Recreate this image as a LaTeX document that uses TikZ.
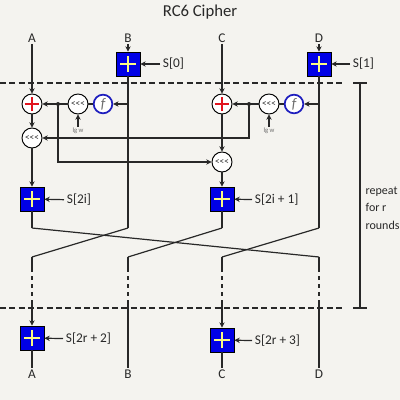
\documentclass[tikz,border=0pt]{standalone}
\usepackage{fontspec}
\setmainfont{Carlito}
\usetikzlibrary{arrows.meta, positioning, calc}
\definecolor{RCBack}{RGB}{244, 243, 239}
\definecolor{RCBlue}{RGB}{0, 0, 230}
\definecolor{RCYellow}{RGB}{250, 250, 130}
\definecolor{RCRed}{RGB}{225, 20, 30}
\definecolor{RCRing}{RGB}{30, 30, 190}
\definecolor{RCLine}{RGB}{40, 40, 40}
\definecolor{RCGrey}{RGB}{110, 110, 110}

\tikzset{
  wire/.style={RCLine, line width=0.9pt},
  arr/.style={wire, -{Stealth[length=4pt,width=4pt]}},
  broken/.style={wire, dash pattern=on 3pt off 3pt},
  sep/.style={RCLine, line width=0.9pt, dash pattern=on 4.5pt off 2.5pt},
  lbl/.style={font=\fontsize{10}{12}\selectfont, text=RCLine, inner sep=1pt},
  keylbl/.style={lbl, anchor=west, inner sep=2pt},
  keybox/.style={draw=black, line width=0.6pt, fill=RCBlue, minimum size=18pt, inner sep=0pt,
    path picture={
      \draw[RCYellow, line width=1pt] (path picture bounding box.center) ++(-6pt,0) -- ++(12pt,0);
      \draw[RCYellow, line width=1pt] (path picture bounding box.center) ++(0,-6pt) -- ++(0,12pt);
    }},
  addcirc/.style={circle, draw=black, line width=0.7pt, fill=white, minimum size=15pt, inner sep=0pt,
    path picture={
      \draw[RCRed, line width=1.3pt] (path picture bounding box.center) ++(-5.5pt,0) -- ++(11pt,0);
      \draw[RCRed, line width=1.3pt] (path picture bounding box.center) ++(0,-5.5pt) -- ++(0,11pt);
    }},
  rotcirc/.style={circle, draw=black, line width=0.7pt, fill=white, minimum size=15pt, inner sep=0pt,
    font=\fontsize{7}{7}\selectfont, text=RCLine},
  fcirc/.style={circle, draw=RCRing, line width=1.3pt, fill=white, minimum size=14pt, inner sep=0pt,
    font=\fontsize{11}{11}\selectfont\itshape, text=RCGrey},
}

\begin{document}
\begin{tikzpicture}[x=0.75pt,y=-0.75pt]
  \useasboundingbox (0,0) rectangle (400,400);
  \fill[RCBack] (0,0) rectangle (400,400);

  \node[lbl, font=\fontsize{12.5}{14}\selectfont] (title) at (200,12) {RC6 Cipher};

  % inputs and first keys
  \node[lbl] (inA) at (32,38) {A};
  \node[lbl] (inB) at (128,38) {B};
  \node[lbl] (inC) at (222,38) {C};
  \node[lbl] (inD) at (319,38) {D};
  \node[keybox] (keyB) at (128,64) {};
  \node[keybox] (keyD) at (319,64) {};
  \node[keylbl] (sB) at (160,64) {S[0]};
  \node[keylbl] (sD) at (350,64) {S[1]};

  % round separators
  \draw[sep] (0,83) -- (342,83);
  \draw[sep] (0,308) -- (342,308);
  \draw[wire] (360,83) -- (360,308);
  \draw[wire] (353,83) -- (367,83);
  \draw[wire] (353,308) -- (367,308);
  \node[lbl, anchor=west, align=left, font=\fontsize{9}{13}\selectfont] (rep) at (364,208) {repeat\\for r\\rounds};

  % round function
  \node[addcirc] (addA) at (32,104) {};
  \coordinate (dotA) at (58,104);
  \node[rotcirc] (rotA) at (78,104) {<{}<{}<};
  \node[fcirc] (fA) at (103,104) {f};
  \node[lbl, font=\fontsize{5}{5}\selectfont, text=RCGrey] (lgA) at (78,131) {lg w};
  \node[addcirc] (addC) at (222,104) {};
  \coordinate (dotC) at (249,104);
  \node[rotcirc] (rotC) at (269,104) {<{}<{}<};
  \node[fcirc] (fC) at (294,104) {f};
  \node[lbl, font=\fontsize{5}{5}\selectfont, text=RCGrey] (lgC) at (269,131) {lg w};
  \node[rotcirc] (shA) at (32,138) {<{}<{}<};
  \node[rotcirc] (shC) at (222,162) {<{}<{}<};
  \node[keybox] (keyA) at (32,199) {};
  \node[keybox] (keyC) at (222,199) {};
  \node[keylbl] (sA) at (64,200) {S[2i]};
  \node[keylbl] (sC) at (252,200) {S[2i + 1]};

  % output keys and labels
  \node[keybox] (finA) at (32,338) {};
  \node[keybox] (finC) at (222,340) {};
  \node[keylbl] (sfA) at (63,339) {S[2r + 2]};
  \node[keylbl] (sfC) at (252,341) {S[2r + 3]};
  \node[lbl] (outA) at (32,374) {A};
  \node[lbl] (outB) at (128,374) {B};
  \node[lbl] (outC) at (222,374) {C};
  \node[lbl] (outD) at (319,374) {D};

  \foreach \c/\x in {A/32,B/128,C/222,D/319}{
    \coordinate (top\c) at (\x,228);
    \coordinate (bot\c) at (\x,257);
    \coordinate (ds\c) at (\x,268);
    \coordinate (de\c) at (\x,302);
  }

  % top part
  \draw[arr] (inA) -- (addA);
  \draw[arr] (inB) -- (keyB);
  \draw[arr] (inC) -- (addC);
  \draw[arr] (inD) -- (keyD);
  \draw[arr] (sB) -- (keyB);
  \draw[arr] (sD) -- (keyD);
  \draw[wire] (keyB) -- (topB);
  \draw[wire] (keyD) -- (topD);
  \draw[arr] (keyB |- fA) -- (fA);
  \draw[arr] (keyD |- fC) -- (fC);
  \draw[wire] (fA) -- (rotA);
  \draw[wire] (fC) -- (rotC);
  \draw[arr] (rotA) -- (addA);
  \draw[arr] (rotC) -- (addC);
  \draw[arr] (lgA) -- (rotA);
  \draw[arr] (lgC) -- (rotC);
  \fill[RCLine] (dotA) circle (1.5pt);
  \fill[RCLine] (dotC) circle (1.5pt);
  \draw[arr] (dotA) |- (shC);
  \draw[arr] (dotC) |- (shA);
  \draw[arr] (addA) -- (shA);
  \draw[arr] (addC) -- (shC);
  \draw[arr] (shA) -- (keyA);
  \draw[arr] (shC) -- (keyC);
  \draw[arr] (sA) -- (keyA);
  \draw[arr] (sC) -- (keyC);
  \draw[wire] (keyA) -- (topA);
  \draw[wire] (keyC) -- (topC);

  % word rotation
  \draw[wire] (topA) -- (botD);
  \draw[wire] (topB) -- (botA);
  \draw[wire] (topC) -- (botB);
  \draw[wire] (topD) -- (botC);
  \foreach \c in {A,B,C,D}{
    \draw[wire] (bot\c) -- (ds\c);
    \draw[broken] (ds\c) -- (de\c);
  }

  % output
  \draw[arr] (deA) -- (finA);
  \draw[arr] (deC) -- (finC);
  \draw[wire] (deB) -- (outB);
  \draw[wire] (deD) -- (outD);
  \draw[arr] (sfA) -- (finA);
  \draw[arr] (sfC) -- (finC);
  \draw[wire] (finA) -- (outA);
  \draw[wire] (finC) -- (outC);
\end{tikzpicture}
\end{document}
